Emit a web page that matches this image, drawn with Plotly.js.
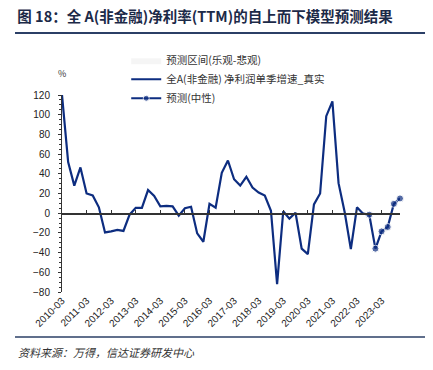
<!DOCTYPE html>
<html>
<head>
<meta charset="utf-8">
<script src="https://cdn.plot.ly/plotly-3.0.1.min.js"></script>
<style>
html,body{margin:0;padding:0;background:#fff;}
#chart{width:433px;height:370px;}
</style>
</head>
<body>
<div id="chart"></div>
<script>
// quarter categories 2010-03 .. 2023-12
var years = [2010,2011,2012,2013,2014,2015,2016,2017,2018,2019,2020,2021,2022,2023];
var months = ["03","06","09","12"];
var quarters = [];
years.forEach(function(y){ months.forEach(function(m){ quarters.push(y + "-" + m); }); });
var yearTicks = years.map(function(y){ return y + "-03"; });

// 全A(非金融) 净利润单季增速_真实 (2010-03 .. 2022-06)
var realValues = [120, 52, 28, 46.5, 20, 18, 6, -19.5, -18.5, -17, -18, -1.5,
  5.5, 5.5, 23.5, 17.5, 7, 7.5, 7, -2.5, 5, 6.5, -20.5, -29,
  9.5, 5.5, 41, 53.5, 34.5, 28, 37, 26, 21, 18, 2.5, -72,
  2, -5.5, 0.5, -36, -41.5, 9, 20, 98.5, 113.5, 30.5, 1, -36.5,
  6, -0.5];
var realCats = quarters.slice(0, realValues.length);

// 预测(中性) (2022-06 .. 2023-12)
var fcCats = quarters.slice(49);
var fcValues = [-0.5, -1.5, -36, -18.5, -14, 9.5, 15];
var fcMarkerSize = [0, 7, 7, 7, 7, 7, 7];

// 预测区间(乐观-悲观)
var bandCats = quarters.slice(50);
var bandLow = [-2, -37, -22, -18, 7, 14];
var bandHigh = [-1, -35, -15, -11, 11, 16];

var navy = "#0d2d80";
var cjk = "'Noto Sans CJK SC', 'Noto Sans', sans-serif";

var traces = [
  {x: bandCats, y: bandLow, mode: "lines", line: {width: 0, color: "rgba(0,0,0,0)"},
   showlegend: false, hoverinfo: "skip"},
  {x: bandCats, y: bandHigh, mode: "lines", fill: "tonexty", fillcolor: "rgba(225,225,225,0.35)",
   line: {width: 0, color: "rgba(0,0,0,0)"}, name: "预测区间(乐观-悲观)"},
  {x: realCats, y: realValues, mode: "lines", line: {color: navy, width: 2.2},
   name: "全A(非金融) 净利润单季增速_真实"},
  {x: fcCats, y: fcValues, mode: "lines+markers", line: {color: navy, width: 2.2}, cliponaxis: false,
   marker: {color: navy, size: fcMarkerSize}, name: "预测(中性)"},
  // invisible carrier for the zero-line category axis
  {x: realCats, y: realValues, xaxis: "x2", mode: "lines", line: {width: 0, color: "rgba(0,0,0,0)"},
   showlegend: false, hoverinfo: "skip"}
];

var layout = {
  width: 433, height: 370,
  margin: {l: 62, r: 33, t: 95, b: 78},
  paper_bgcolor: "#fff", plot_bgcolor: "#fff",
  font: {family: cjk, size: 10, color: "#222"},
  title: {
    text: "图 18：全 A(非金融)净利率(TTM)的自上而下模型预测结果",
    font: {family: cjk, size: 14.5, color: "#1c2a48", weight: "bold"},
    xref: "container", yref: "container", x: 0.04, xanchor: "left", y: 0.954, yanchor: "middle"
  },
  xaxis: {
    type: "category", categoryorder: "array", categoryarray: quarters,
    range: [0, 55], tickmode: "array", tickvals: yearTicks, ticktext: yearTicks,
    tickangle: -45, showline: false, ticks: "", showgrid: false, zeroline: false,
    tickfont: {family: "'Liberation Sans', Arial, sans-serif", size: 10, color: "#222"}
  },
  xaxis2: {
    type: "category", categoryorder: "array", categoryarray: quarters,
    overlaying: "x", anchor: "free", position: 0.4, side: "bottom",
    range: [0, 55], tickmode: "array", tickvals: yearTicks,
    ticks: "inside", ticklen: 3, tickwidth: 1, tickcolor: "#333",
    showticklabels: false, showline: true, linecolor: "#333", linewidth: 1.5,
    showgrid: false, zeroline: false
  },
  yaxis: {
    range: [-80, 120], dtick: 20, tick0: 0, showgrid: false, zeroline: false,
    showline: true, linecolor: "#333", linewidth: 1,
    ticks: "outside", ticklen: 3, tickcolor: "#333", ticklabelstandoff: 6,
    minor: {dtick: 5, ticks: "outside", ticklen: 2, tickcolor: "#333"},
    tickfont: {family: "'Liberation Sans', Arial, sans-serif", size: 10, color: "#222"}
  },
  legend: {
    x: 0.19, y: 1.25, xanchor: "left", yanchor: "top",
    bgcolor: "rgba(0,0,0,0)", font: {family: cjk, size: 10.5, color: "#333"},
    traceorder: "normal", tracegroupgap: 0
  },
  shapes: [
    {type: "line", xref: "paper", yref: "paper", x0: -0.139, x1: 1.074, y0: 1.315, y1: 1.315,
     line: {color: "#2b3f66", width: 2}},
    {type: "line", xref: "paper", yref: "paper", x0: -0.139, x1: 1.074, y0: -0.228, y1: -0.228,
     line: {color: "#2b3f66", width: 1.5}}
  ],
  annotations: [
    {text: "%", xref: "paper", yref: "paper", x: 0, y: 1.11, xanchor: "center", yanchor: "middle",
     showarrow: false, font: {family: cjk, size: 9, color: "#333"}},
    {text: "<i>资料来源：万得，信达证券研发中心</i>", xref: "paper", yref: "paper", x: -0.136, y: -0.305,
     xanchor: "left", yanchor: "middle", showarrow: false,
     font: {family: cjk, size: 11, color: "#333"}}
  ]
};

Plotly.newPlot("chart", traces, layout, {displayModeBar: false, staticPlot: true});
</script>
</body>
</html>
